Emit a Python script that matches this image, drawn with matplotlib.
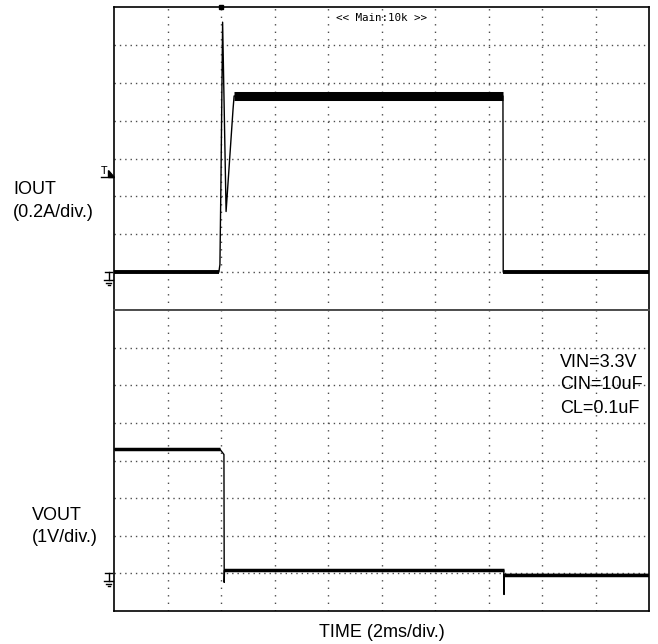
import matplotlib
matplotlib.use("Agg")
import matplotlib.pyplot as plt
import numpy as np
from matplotlib.lines import Line2D
from matplotlib.patches import Polygon
from matplotlib.transforms import IdentityTransform, blended_transform_factory

plt.rcParams['font.family'] = ['Liberation Sans', 'DejaVu Sans']

# IOUT trace, time in ms, current in A (0.2A/div)
t_iout = [0, 3.92, 3.96, 4.00, 4.06, 4.19, 4.45, 4.49, 14.54, 14.55, 20]
iout = [0, 0, 0.04, 0.50, 1.32, 0.32, 0.86, 0.93, 0.93, 0, 0]

# VOUT trace, time in ms, voltage in V (1V/div)
t_vout = [0, 3.96, 4.11, 4.12, 4.13, 14.57, 14.58, 14.59, 20]
vout = [3.30, 3.30, 3.16, -0.24, 0.08, 0.08, -0.56, -0.03, -0.03]

trig_t = 4.0
trig_level = 0.5
notes = ["VIN=3.3V", "CIN=10uF", "CL=0.1uF"]

W, H = 658, 644
L, R = 114, 649
T, M, B = 7, 310, 611

fig = plt.figure(figsize=(W / 100, H / 100), dpi=100)
ax1 = fig.add_axes([L / W, 1 - M / H, (R - L) / W, (M - T) / H])
ax2 = fig.add_axes([L / W, 1 - B / H, (R - L) / W, (B - M) / H])

ax1.set_xlim(0, 20)
ax1.set_ylim(-0.2, 1.4)
ax2.set_xlim(0, 20)
ax2.set_ylim(-1, 7)


def scope_grid(ax):
    x0, x1 = ax.get_xlim()
    y0, y1 = ax.get_ylim()
    xs = np.linspace(x0, x1, 11)[1:-1]
    ys = np.linspace(y0, y1, 9)[1:-1]
    ax.vlines(xs, y0, y1, colors='0.3', lw=1.0, linestyles=(0, (1, 4.4)))
    ax.hlines(ys, x0, x1, colors='0.3', lw=1.0, linestyles=(0, (1, 2.85)))
    ax.set_xticks([])
    ax.set_yticks([])
    for s in ax.spines.values():
        s.set_linewidth(1.2)
        s.set_color('k')


def ground_mark(ax):
    yz = ax.transData.transform((0, 0))[1]
    segs = [((105, 112), (yz, yz)), ((108.5, 108.5), (yz, yz - 8)),
            ((104, 113), (yz - 8, yz - 8)), ((106, 111), (yz - 10.5, yz - 10.5)),
            ((107.5, 109.5), (yz - 13, yz - 13))]
    for xs, ys in segs:
        fig.add_artist(Line2D(xs, ys, color='k', lw=1.0, transform=IdentityTransform()))


scope_grid(ax1)
scope_grid(ax2)
ax1.spines['bottom'].set_color('0.3')
ax2.spines['top'].set_color('0.3')
ax1.spines['bottom'].set_linewidth(1.4)
ax2.spines['top'].set_linewidth(1.4)

# IOUT
ax1.plot(t_iout, iout, color='k', lw=1.0)
ax1.plot(t_iout[:2], iout[:2], color='k', lw=2.8, solid_capstyle='butt')
ax1.plot(t_iout[7:9], iout[7:9], color='k', lw=6.5, solid_capstyle='butt')
ax1.plot(t_iout[9:], iout[9:], color='k', lw=2.8, solid_capstyle='butt')

# VOUT
ax2.plot(t_vout, vout, color='k', lw=1.0)
ax2.plot(t_vout[:2], vout[:2], color='k', lw=2.5, solid_capstyle='butt')
ax2.plot(t_vout[4:6], vout[4:6], color='k', lw=2.5, solid_capstyle='butt')
ax2.plot(t_vout[7:], vout[7:], color='k', lw=2.5, solid_capstyle='butt')

# trigger markers
ax1.plot([trig_t], [1], transform=blended_transform_factory(ax1.transData, ax1.transAxes),
         marker='s', ms=2.5, color='k', clip_on=False)
yt = ax1.transData.transform((0, trig_level))[1]
fig.add_artist(Line2D((101, 113), (yt, yt), color='k', lw=1.0, transform=IdentityTransform()))
fig.add_artist(Polygon([(108, yt + 7), (108, yt), (114, yt)], closed=True, color='k',
                       transform=IdentityTransform()))
fig.text(104.5 / W, (yt + 1.0) / H, 'T', family='DejaVu Sans Mono', fontsize=8,
         ha='center', va='bottom')

ground_mark(ax1)
ground_mark(ax2)

fs = 13
fig.text(13 / W, 1 - 194 / H, 'IOUT', fontsize=fs, va='baseline')
fig.text(13 / W, 1 - 217 / H, '(0.2A/div.)', fontsize=fs, va='baseline')
fig.text(32 / W, 1 - 520 / H, 'VOUT', fontsize=fs, va='baseline')
fig.text(32 / W, 1 - 542 / H, '(1V/div.)', fontsize=fs, va='baseline')
fig.text((L + R) / 2 / W, 1 - 637 / H, 'TIME (2ms/div.)', fontsize=fs, ha='center', va='baseline')
for txt, yb in zip(notes, [367, 389, 413]):
    fig.text(560 / W, 1 - yb / H, txt, fontsize=fs, va='baseline')
fig.text(336 / W, 1 - 18 / H, '<< Main:10k >>', family='DejaVu Sans Mono', fontsize=7.8,
         va='center')

fig.savefig('out.png', dpi=100)
